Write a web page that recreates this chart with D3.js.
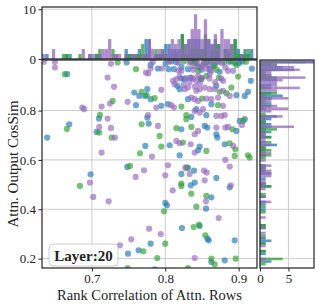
<!DOCTYPE html>
<html>
<head>
<meta charset="utf-8">
<script src="https://cdn.jsdelivr.net/npm/d3@7"></script>
<style>
  body { margin: 0; background: #fff; }
  text { font-family: "Liberation Serif", "DejaVu Serif", serif; fill: #222; }
</style>
</head>
<body>
<script>
// [rank correlation, cos sim] per series
const blue = [
  [0.6664,0.9475],[0.7473,0.9949],[0.7578,0.8732],[0.7646,0.8596],[0.7723,0.8596],[0.7755,0.8867],
  [0.7601,0.8218],[0.7096,0.7677],[0.6691,0.7447],[0.6391,0.6906],[0.7064,0.7136],[0.7755,0.7717],
  [0.7774,0.7474],[0.7728,0.6568],
  [0.8605,0.9678],[0.9005,0.9921],[0.7900,0.9705],[0.8046,0.9678],[0.8119,0.9678],[0.8310,0.9678],
  [0.8492,0.9651],[0.8742,0.9570],[0.8219,0.9299],[0.8264,0.9272],[0.8492,0.9272],[0.9165,0.9205],
  [0.8164,0.9002],[0.8196,0.8867],[0.8696,0.9002],[0.8969,0.8623],[0.9083,0.8596],[0.9128,0.8759],
  [0.7800,0.8461],[0.7946,0.8191],[0.8037,0.8258],[0.8310,0.8461],[0.8628,0.8258],[0.8423,0.8055],
  [0.8560,0.7812],[0.8355,0.7744],[0.9015,0.7582],[0.9083,0.7650],[0.8219,0.7244],[0.8537,0.7379],
  [0.8573,0.7312],[0.8969,0.7177],[0.8696,0.7041],[0.8710,0.6906],[0.8060,0.6595],[0.8469,0.6541],
  [0.8446,0.6392],[0.8810,0.6636],[0.8196,0.6189],
  [0.6982,0.5419],[0.7482,0.5716],[0.7637,0.2335],[0.7492,0.2200],[0.7800,0.2606],
  [0.8310,0.5676],[0.8392,0.5567],[0.8219,0.5432],[0.8696,0.5270],[0.8346,0.4972],[0.8401,0.5081],
  [0.8878,0.4891],[0.8628,0.4486],[0.8000,0.4256],[0.8023,0.4161],[0.8555,0.4026],[0.8228,0.3242],
  [0.8469,0.3323],[0.8573,0.2809],[0.8592,0.2741],[0.8946,0.2741],[0.8628,0.1863],[0.8810,0.1930],
  [0.7855,0.1565],
  [0.7800,0.9850],[0.8005,0.9900],[0.8870,0.9980],[0.8080,0.9990],[0.9050,0.9990],
  [0.8150,0.9960],[0.8400,0.9990],[0.8560,0.9940],[0.8720,0.9980],[0.8950,0.9930],[0.8220,0.9760],
  [0.8450,0.9780],[0.8660,0.9800],[0.8340,0.9330],[0.9180,0.9700]
];
const green = [
  [0.6632,0.9475],[0.7351,0.9949],[0.7601,0.9678],[0.7678,0.8759],[0.7746,0.8623],[0.7282,0.8393],
  [0.7110,0.7825],[0.6659,0.7258],[0.7100,0.7109],[0.7269,0.6906],[0.7678,0.7447],[0.7655,0.6270],
  [0.8410,0.9921],[0.8673,0.9840],[0.8969,0.9840],[0.8446,0.9611],[0.8696,0.9651],[0.8560,0.9408],
  [0.8992,0.9381],[0.8742,0.8759],[0.8833,0.8705],[0.8901,0.8934],[0.7855,0.8502],[0.8219,0.8164],
  [0.8501,0.8488],[0.8719,0.8218],[0.8287,0.7812],[0.8287,0.7650],[0.9060,0.7582],[0.8151,0.7285],
  [0.8355,0.7339],[0.8915,0.7244],[0.7923,0.6974],[0.7946,0.6541],[0.8241,0.6703],[0.8560,0.6365],
  [0.8878,0.6676],[0.8955,0.6433],[0.8946,0.6162],[0.9128,0.6189],[0.9151,0.6095],
  [0.6837,0.4945],[0.7519,0.5757],[0.7701,0.2295],[0.7073,0.1997],[0.7487,0.1619],
  [0.8290,0.5700],[0.8219,0.5040],[0.8219,0.4945],[0.8355,0.4634],[0.8560,0.4540],[0.7982,0.3918],
  [0.8423,0.4107],[0.8387,0.3282],[0.8460,0.3377],[0.8546,0.2944],[0.8000,0.2606],[0.7891,0.2025],
  [0.8628,0.1997],[0.8673,0.1768],[0.8960,0.1997],[0.8310,0.1619],
  [0.8250,0.9990],[0.8620,0.9990],[0.8800,0.9970],[0.9100,0.9980],
  [0.8350,0.9990],[0.8530,0.9900],[0.8730,0.9330],[0.8480,0.9300],[0.8900,0.9990]
];
const purple = [
  [0.6346,0.9976],[0.6496,0.9976],[0.6496,0.9746],[0.7260,0.9894],[0.7737,0.9543],[0.7769,0.9502],
  [0.7214,0.9340],[0.7301,0.8961],[0.7487,0.8353],[0.7246,0.8285],[0.7132,0.8164],[0.6869,0.8123],
  [0.6896,0.8055],[0.7214,0.7677],[0.7100,0.7339],[0.7260,0.7298],[0.7314,0.6906],[0.7132,0.6297],
  [0.8501,0.9840],[0.8583,0.9840],[0.8774,0.9921],[0.7800,0.9705],[0.7955,0.9705],[0.8182,0.9611],
  [0.8219,0.9611],[0.8378,0.9651],[0.8628,0.9611],[0.8855,0.9611],[0.8924,0.9611],[0.8196,0.9381],
  [0.8151,0.9272],[0.8105,0.9205],[0.8355,0.9340],[0.8446,0.9408],[0.8423,0.9205],[0.8605,0.9475],
  [0.8764,0.9299],[0.8787,0.9205],[0.7946,0.8840],[0.8128,0.9070],[0.8264,0.8867],[0.8310,0.8934],
  [0.8401,0.8975],[0.8423,0.8799],[0.8469,0.8867],[0.8537,0.8934],[0.8605,0.8867],[0.8673,0.8867],
  [0.8787,0.8799],[0.8878,0.8596],[0.7878,0.8123],[0.8082,0.8218],[0.8119,0.8123],[0.8355,0.8529],
  [0.8401,0.8461],[0.8446,0.8393],[0.8560,0.8488],[0.8628,0.8461],[0.8787,0.8191],[0.8719,0.8529],
  [0.8401,0.7988],[0.8469,0.7920],[0.8514,0.8055],[0.8696,0.7785],[0.8764,0.7785],[0.8810,0.7812],
  [0.7764,0.7812],[0.9046,0.7420],[0.7900,0.7379],[0.8446,0.7177],[0.8401,0.7041],[0.8696,0.7312],
  [0.8819,0.7312],[0.8855,0.7339],[0.8151,0.6771],[0.8196,0.6676],[0.8346,0.6636],[0.8401,0.6297],
  [0.8924,0.6568],[0.7819,0.6135],[0.8819,0.6000],
  [0.6973,0.5081],[0.7019,0.4499],[0.7228,0.4323],[0.7596,0.5310],[0.7710,0.5581],[0.7780,0.3215],
  [0.7382,0.2538],[0.7537,0.2782],
  [0.8037,0.5784],[0.8273,0.5676],[0.8332,0.5432],[0.8000,0.5378],[0.8528,0.5567],[0.8564,0.5486],
  [0.8537,0.5175],[0.8878,0.5730],[0.8101,0.4770],[0.8892,0.4972],[0.8555,0.4323],[0.8728,0.3647],
  [0.7937,0.2998],[0.8401,0.2025],
  [0.7830,0.9970],[0.8330,0.9950],[0.8430,0.9960],[0.8530,0.9980],[0.8700,1.0000],
  [0.8050,0.9990],[0.8180,0.9950],[0.8380,0.9810],[0.8480,0.9760],[0.8560,0.9700],[0.8640,0.9990],
  [0.8820,0.9750],[0.8280,0.9320],[0.8380,0.9290],[0.8500,0.9330],[0.8600,0.9300],[0.8330,0.9150],
  [0.8470,0.9100],[0.8250,0.9050],[0.8680,0.9150]
];

const series = [
  {name: "blue", pts: blue, color: "#1f77b4"},
  {name: "green", pts: green, color: "#2ca02c"},
  {name: "purple", pts: purple, color: "#9467bd"}
];

const xTicks = [0.7, 0.8, 0.9];
const yTicks = [0.2, 0.4, 0.6, 0.8];
const topTicks = [0, 10];
const rightTicks = [0, 5];
const layerLabel = "Layer:20";

const width = 319, height = 307;
const main = {left: 42, right: 257, top: 60, bottom: 268};
const topBox = {top: 7, bottom: 59};
const rightBox = {left: 260, right: 314};

const svg = d3.select("body").append("svg")
    .attr("width", width)
    .attr("height", height);

const x = d3.scaleLinear().domain([0.632, 0.925]).range([main.left, main.right]);
const y = d3.scaleLinear().domain([0.162, 1.005]).range([main.bottom, main.top]);
const yTop = d3.scaleLinear().domain([0, 10.45]).range([topBox.bottom, topBox.top]);
const xRight = d3.scaleLinear().domain([0, 9.5]).range([rightBox.left, rightBox.right]);

// clip paths
const defs = svg.append("defs");
defs.append("clipPath").attr("id", "clipMain").append("rect")
    .attr("x", main.left).attr("y", main.top)
    .attr("width", main.right - main.left).attr("height", main.bottom - main.top);
defs.append("clipPath").attr("id", "clipTop").append("rect")
    .attr("x", main.left).attr("y", topBox.top)
    .attr("width", main.right - main.left).attr("height", topBox.bottom - topBox.top);
defs.append("clipPath").attr("id", "clipRight").append("rect")
    .attr("x", rightBox.left).attr("y", main.top)
    .attr("width", rightBox.right - rightBox.left).attr("height", main.bottom - main.top);

const gridColor = "#cccccc";

// **** grids *****
const grid = svg.append("g").attr("stroke", gridColor).attr("stroke-width", 1);
xTicks.forEach(function(t) {
  grid.append("line").attr("x1", x(t)).attr("x2", x(t)).attr("y1", main.top).attr("y2", main.bottom);
  grid.append("line").attr("x1", x(t)).attr("x2", x(t)).attr("y1", topBox.top).attr("y2", topBox.bottom);
});
yTicks.forEach(function(t) {
  grid.append("line").attr("x1", main.left).attr("x2", main.right).attr("y1", y(t)).attr("y2", y(t));
  grid.append("line").attr("x1", rightBox.left).attr("x2", rightBox.right).attr("y1", y(t)).attr("y2", y(t));
});
topTicks.forEach(function(t) {
  grid.append("line").attr("x1", main.left).attr("x2", main.right).attr("y1", yTop(t)).attr("y2", yTop(t));
});
rightTicks.forEach(function(t) {
  grid.append("line").attr("x1", xRight(t)).attr("x2", xRight(t)).attr("y1", main.top).attr("y2", main.bottom);
});

// **** scatter *****
const scat = svg.append("g").attr("clip-path", "url(#clipMain)");
series.forEach(function(s) {
  scat.append("g").selectAll("circle")
    .data(s.pts)
    .join("circle")
      .attr("cx", function(d) { return x(d[0]); })
      .attr("cy", function(d) { return y(d[1]); })
      .attr("r", 3.1)
      .attr("fill", s.color)
      .attr("fill-opacity", 0.65);
});

// **** top histogram *****
const xBin = d3.bin().domain(x.domain()).thresholds(d3.range(0.632, 0.925, 0.0045));
const topG = svg.append("g").attr("clip-path", "url(#clipTop)");
series.forEach(function(s) {
  const bins = xBin(s.pts.map(function(d) { return d[0]; })).filter(function(b) { return b.length > 0; });
  topG.append("g").selectAll("rect")
    .data(bins)
    .join("rect")
      .attr("x", function(b) { return x(b.x0); })
      .attr("width", function(b) { return Math.max(0, x(b.x1) - x(b.x0)); })
      .attr("y", function(b) { return yTop(b.length); })
      .attr("height", function(b) { return yTop(0) - yTop(b.length); })
      .attr("fill", s.color)
      .attr("fill-opacity", 0.75);
});

// **** right histogram *****
const yBin = d3.bin().domain(y.domain()).thresholds(d3.range(0.162, 1.005, 0.0105));
const rightG = svg.append("g").attr("clip-path", "url(#clipRight)");
series.forEach(function(s) {
  const bins = yBin(s.pts.map(function(d) { return d[1]; })).filter(function(b) { return b.length > 0; });
  rightG.append("g").selectAll("rect")
    .data(bins)
    .join("rect")
      .attr("x", xRight(0))
      .attr("width", function(b) { return xRight(b.length) - xRight(0); })
      .attr("y", function(b) { return y(b.x1); })
      .attr("height", function(b) { return Math.max(0, y(b.x0) - y(b.x1)); })
      .attr("fill", s.color)
      .attr("fill-opacity", 0.75);
});

// **** axes *****
function styleAxis(g) {
  g.select(".domain").remove();
  g.selectAll(".tick line").attr("stroke", "#222").attr("stroke-width", 1);
  g.selectAll(".tick text").style("font-size", "13px").attr("fill", "#222");
}

svg.append("g")
    .attr("transform", "translate(0," + main.bottom + ")")
    .call(d3.axisBottom(x).tickValues(xTicks).tickSize(3.5).tickPadding(2.5).tickFormat(d3.format(".1f")))
    .call(styleAxis);

svg.append("g")
    .attr("transform", "translate(" + main.left + ",0)")
    .call(d3.axisLeft(y).tickValues(yTicks).tickSize(3.5).tickPadding(2.5).tickFormat(d3.format(".1f")))
    .call(styleAxis);

svg.append("g")
    .attr("transform", "translate(" + main.left + ",0)")
    .call(d3.axisLeft(yTop).tickValues(topTicks).tickSize(3.5).tickPadding(2.5).tickFormat(d3.format("d")))
    .call(styleAxis);

svg.append("g")
    .attr("transform", "translate(0," + main.bottom + ")")
    .call(d3.axisBottom(xRight).tickValues(rightTicks).tickSize(3.5).tickPadding(2.5).tickFormat(d3.format("d")))
    .call(styleAxis);

// frames
const frames = [
  [main.left, main.top, main.right, main.bottom],
  [main.left, topBox.top, main.right, topBox.bottom],
  [rightBox.left, main.top, rightBox.right, main.bottom]
];
svg.append("g").selectAll("rect")
  .data(frames)
  .join("rect")
    .attr("x", function(d) { return d[0]; })
    .attr("y", function(d) { return d[1]; })
    .attr("width", function(d) { return d[2] - d[0]; })
    .attr("height", function(d) { return d[3] - d[1]; })
    .attr("fill", "none")
    .attr("stroke", "#222")
    .attr("stroke-width", 1.2);

// axis labels
svg.append("text")
    .attr("x", (main.left + main.right) / 2)
    .attr("y", 300)
    .attr("text-anchor", "middle")
    .style("font-size", "14.5px")
    .text("Rank Correlation of Attn. Rows");

svg.append("text")
    .attr("transform", "translate(18," + (main.top + main.bottom) / 2 + ") rotate(-90)")
    .attr("text-anchor", "middle")
    .style("font-size", "15px")
    .text("Attn. Output CosSim");

// layer box
const lb = svg.append("g");
lb.append("rect")
    .attr("x", 49).attr("y", 244).attr("width", 69).attr("height", 22).attr("rx", 4)
    .attr("fill", "#fff").attr("fill-opacity", 0.8)
    .attr("stroke", "#cccccc").attr("stroke-width", 1);
lb.append("text")
    .attr("x", 83.5).attr("y", 260.5)
    .attr("text-anchor", "middle")
    .style("font-size", "15px")
    .style("font-weight", "bold")
    .text(layerLabel);
</script>
</body>
</html>
